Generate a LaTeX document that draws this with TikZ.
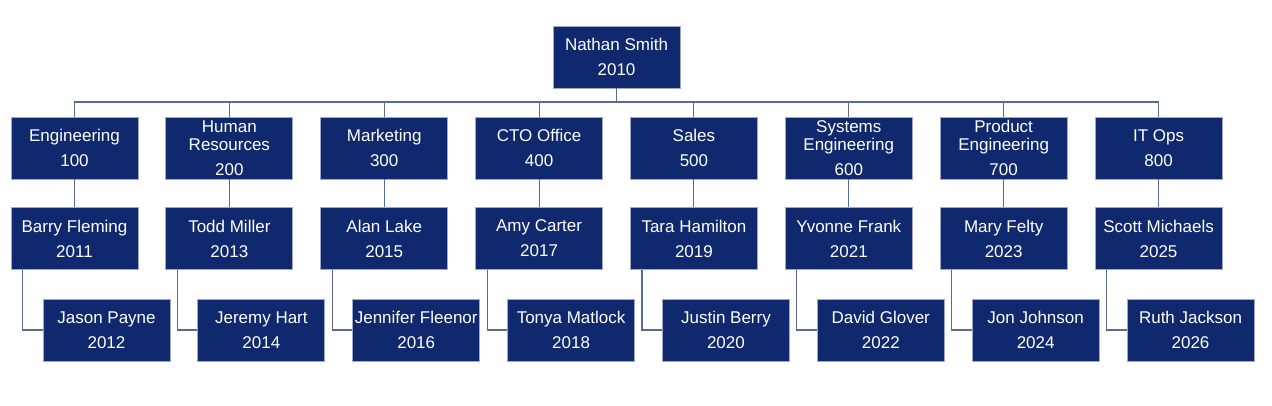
\documentclass[tikz,border=0pt]{standalone}
\usepackage{fontspec}
\setmainfont{Liberation Sans}
\definecolor{boxfill}{RGB}{16,41,110}
\definecolor{boxline}{RGB}{160,168,200}
\definecolor{conn}{RGB}{90,105,150}
\tikzset{
  orgbox/.style={draw=boxline, line width=0.8pt, fill=boxfill, text=white,
    minimum width=127pt, minimum height=62pt, inner sep=0pt, align=center,
    font=\fontsize{17}{25}\selectfont,
    execute at begin node={\vphantom{h}}},
  link/.style={draw=conn, line width=1.1pt}
}
\begin{document}
\begin{tikzpicture}[x=1pt,y=-1pt]
\useasboundingbox (0,0) rectangle (1272,406);
\node[orgbox] (top) at (616.5,57) {Nathan Smith\\2010};
\coordinate (bus) at (616.5,102);
\foreach \i/\dept/\pa/\pb/\ya/\yb in {
  0/{Engineering\\100}/Barry Fleming/Jason Payne/2011/2012,
  1/{Human\\[-7pt]Resources\\200}/Todd Miller/Jeremy Hart/2013/2014,
  2/{Marketing\\300}/Alan Lake/Jennifer Fleenor/2015/2016,
  3/{CTO Office\\400}/Amy Carter/Tonya Matlock/2017/2018,
  4/{Sales\\500}/Tara Hamilton/Justin Berry/2019/2020,
  5/{Systems\\[-7pt]Engineering\\600}/Yvonne Frank/David Glover/2021/2022,
  6/{Product\\[-7pt]Engineering\\700}/Mary Felty/Jon Johnson/2023/2024,
  7/{IT Ops\\800}/Scott Michaels/Ruth Jackson/2025/2026}{
  \node[orgbox] (d\i) at ({74.5+\i*154.86},148) {\dept};
  \node[orgbox] (p\i) at ({74.5+\i*154.86},238.5) {\pa\\\ya};
  \node[orgbox] (s\i) at ({106.5+\i*154.86},330) {\pb\\\yb};
  \draw[link] (d\i.south) -- (p\i.north);
  \draw[link] ([xshift=12pt]p\i.south west) |- (s\i.west);
}
\draw[link] (top.south) -- (bus);
\draw[link] (d0.north) -- (d0.north |- bus) -- (d7.north |- bus) -- (d7.north);
\foreach \i in {1,...,6}{
  \draw[link] (d\i.north) -- (d\i.north |- bus);
}
\end{tikzpicture}
\end{document}
